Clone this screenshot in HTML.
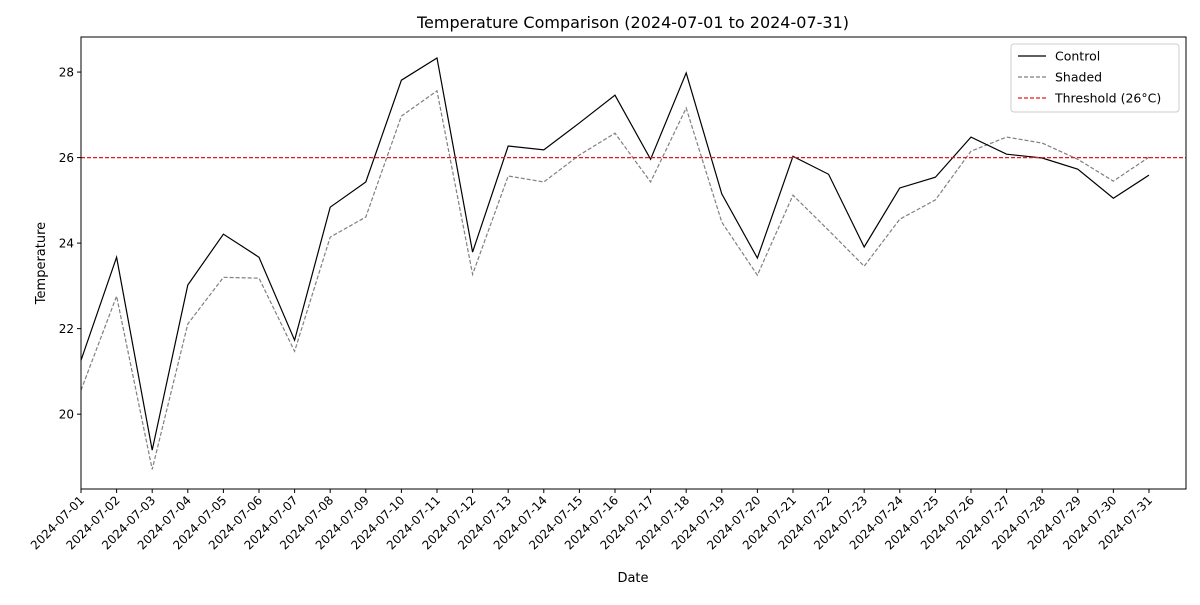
<!DOCTYPE html>
<html><head><meta charset="utf-8"><style>
body{margin:0;background:#fff;font-family:"Liberation Sans","DejaVu Sans",sans-serif}
svg text{font-family:"DejaVu Sans","Liberation Sans",sans-serif}
</style></head><body>
<svg id="chart" width="1200" height="600" xmlns="http://www.w3.org/2000/svg"></svg>
<script>
const dates=[];for(let d=1;d<=31;d++)dates.push('2024-07-'+String(d).padStart(2,'0'));
const controlValues=[21.26,23.67,19.16,23.02,24.21,23.67,21.73,24.84,25.43,27.81,28.33,23.79,26.27,26.18,26.81,27.46,25.96,27.98,25.15,23.65,26.03,25.61,23.91,25.29,25.54,26.48,26.08,25.99,25.73,25.05,25.59];
const shadedValues=[20.56,22.76,18.71,22.11,23.20,23.18,21.47,24.14,24.61,26.97,27.56,23.27,25.57,25.43,26.06,26.57,25.43,27.16,24.49,23.25,25.12,24.30,23.46,24.56,25.01,26.15,26.48,26.34,25.96,25.45,26.01];
const yTicks=[20,22,24,26,28];
const threshold=26;
const L=81,R=1186,T=37,B=489;
const yMin=18.25,yMax=28.82,xMin=0,xMax=31.04;
const x=i=>L+(i-xMin)/(xMax-xMin)*(R-L);
const y=v=>B-(v-yMin)/(yMax-yMin)*(B-T);
const svg=document.getElementById('chart');const NS='http://www.w3.org/2000/svg';
function mk(tag,attrs,parent){const e=document.createElementNS(NS,tag);for(const k in attrs)e.setAttribute(k,attrs[k]);(parent||svg).appendChild(e);return e;}
let t=mk('text',{x:633,y:28,'font-size':16,'text-anchor':'middle'});t.textContent='Temperature Comparison (2024-07-01 to 2024-07-31)';


yTicks.forEach(v=>{const g=mk('g',{});


mk('line',{x1:L-4,x2:L,y1:y(v),y2:y(v),stroke:'#000'},g);
const tx=mk('text',{x:L-7,y:y(v)+4.5,'font-size':12,'text-anchor':'end'},g);tx.textContent=v;});
dates.forEach((d,i)=>{const g=mk('g',{});


mk('line',{x1:x(i),x2:x(i),y1:B,y2:B+4,stroke:'#000'},g);
const tx=mk('text',{x:x(i)+4,y:B+12,'font-size':12,'text-anchor':'end',transform:`rotate(-45 ${x(i)+4} ${B+12})`},g);tx.textContent=d;});
let ps=mk('polyline',{points:shadedValues.map((v,i)=>x(i)+','+y(v)).join(' '),fill:'none',stroke:'#808080','stroke-width':1.2,'stroke-dasharray':'4,2'});


let pc=mk('polyline',{points:controlValues.map((v,i)=>x(i)+','+y(v)).join(' '),fill:'none',stroke:'#000','stroke-width':1.2});


let th=mk('line',{x1:L,x2:R,y1:y(threshold),y2:y(threshold),stroke:'#e41a1a','stroke-width':1.2,'stroke-dasharray':'4,2',fill:'none'});


let fr=mk('rect',{x:L,y:T,width:R-L,height:B-T,fill:'none',stroke:'#000'});


t=mk('text',{x:633,y:582,'font-size':13,'text-anchor':'middle'});t.textContent='Date';


t=mk('text',{x:45,y:263,'font-size':13,'text-anchor':'middle',transform:'rotate(-90 45 263)'});t.textContent='Temperature';


const lg=mk('g',{});


mk('rect',{x:1011,y:44,width:168,height:68,fill:'#fff',stroke:'#ccc',rx:3},lg);
[['Control','#000',''],['Shaded','#808080','4,2'],['Threshold (26°C)','#e41a1a','4,2']].forEach((e,k)=>{const g=mk('g',{},lg);


const yy=56+k*21;mk('line',{x1:1018,x2:1046,y1:yy,y2:yy,stroke:e[1],'stroke-width':1.2,'stroke-dasharray':e[2]},g);
const tx=mk('text',{x:1055,y:yy+4.5,'font-size':12.5},g);tx.textContent=e[0];});
</script>
</body></html>
